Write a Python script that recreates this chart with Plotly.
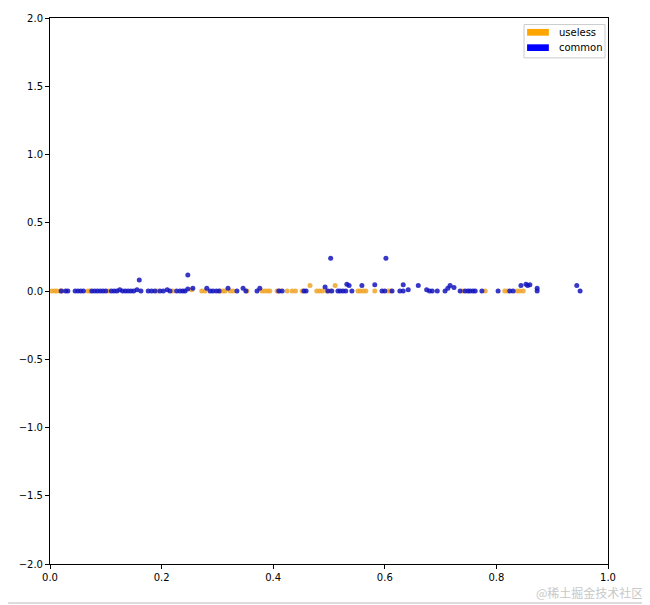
import plotly.graph_objects as go

# ---- data ----
useless_x = [0.003, 0.008, 0.012, 0.018, 0.022, 0.068, 0.072, 0.105, 0.192, 0.22,
             0.254, 0.272, 0.278, 0.305, 0.31, 0.314, 0.323, 0.328, 0.353, 0.38,
             0.385, 0.39, 0.394, 0.407, 0.412, 0.425, 0.434, 0.44, 0.452, 0.466,
             0.478, 0.483, 0.488, 0.496, 0.502, 0.511, 0.552, 0.556, 0.561, 0.566,
             0.582, 0.606, 0.61, 0.74, 0.78, 0.815, 0.82, 0.837, 0.842, 0.848]
useless_y = [0, 0, 0, 0, 0, 0, 0, 0, 0, 0,
             0.01, 0, 0, 0, 0, 0, 0, 0, 0, 0,
             0, 0, 0, 0, 0, 0, 0, 0, 0, 0.04,
             0, 0, 0, 0, 0, 0.04, 0, 0, 0, 0,
             0, 0, 0, 0, 0, 0, 0, 0, 0, 0]

common_x = [0.02, 0.028, 0.032, 0.045, 0.05, 0.055, 0.06, 0.075, 0.08, 0.085,
            0.09, 0.095, 0.1, 0.11, 0.115, 0.12, 0.125, 0.13, 0.135, 0.14,
            0.145, 0.15, 0.156, 0.16, 0.163, 0.176, 0.182, 0.188, 0.197, 0.203,
            0.21, 0.215, 0.227, 0.233, 0.238, 0.242, 0.247, 0.247, 0.256, 0.281,
            0.287, 0.292, 0.298, 0.303, 0.319, 0.335, 0.346, 0.351, 0.371, 0.376,
            0.41, 0.416, 0.455, 0.459, 0.493, 0.498, 0.503, 0.505, 0.516, 0.52,
            0.525, 0.53, 0.532, 0.536, 0.541, 0.559, 0.582, 0.595, 0.6, 0.602,
            0.613, 0.627, 0.633, 0.633, 0.642, 0.66, 0.675, 0.68, 0.685, 0.694,
            0.708, 0.713, 0.717, 0.724, 0.735, 0.744, 0.749, 0.753, 0.758, 0.762,
            0.774, 0.803, 0.824, 0.83, 0.844, 0.853, 0.856, 0.86, 0.873, 0.873,
            0.944, 0.95]
common_y = [0, 0, 0, 0, 0, 0, 0, 0, 0, 0,
            0, 0, 0, 0, 0, 0, 0.01, 0, 0, 0,
            0, 0, 0.01, 0.08, 0, 0, 0, 0, 0, 0,
            0.01, 0, 0, 0, 0, 0, 0.117, 0.015, 0.02, 0.02,
            0, 0, 0, 0, 0.02, 0, 0.02, 0, 0, 0.02,
            0, 0, 0, 0, 0.03, 0, 0.24, 0, 0, 0,
            0, 0, 0.05, 0.04, 0, 0.04, 0.045, 0, 0, 0.24,
            0, 0, 0, 0.045, 0.01, 0.04, 0.01, 0, 0, 0,
            0, 0.02, 0.04, 0.025, 0, 0, 0, 0, 0, 0,
            0, 0, 0, 0, 0.04, 0.05, 0.04, 0.045, 0.02, 0.0,
            0.04, 0.0]

x_ticks = [0.0, 0.2, 0.4, 0.6, 0.8, 1.0]
x_labels = ["0.0", "0.2", "0.4", "0.6", "0.8", "1.0"]
y_ticks = [-2.0, -1.5, -1.0, -0.5, 0.0, 0.5, 1.0, 1.5, 2.0]
y_labels = ["\u22122.0", "\u22121.5", "\u22121.0", "\u22120.5", "0.0", "0.5", "1.0", "1.5", "2.0"]

series_names = ["useless", "common"]
orange = "rgba(240,165,40,0.85)"
blue = "rgba(20,20,190,0.85)"

fig = go.Figure()
fig.add_trace(go.Scatter(x=useless_x, y=useless_y, mode="markers", name=series_names[0],
                         marker=dict(color=orange, size=5, line=dict(width=0)), showlegend=False))
fig.add_trace(go.Scatter(x=common_x, y=common_y, mode="markers", name=series_names[1],
                         marker=dict(color=blue, size=5, line=dict(width=0)), showlegend=False))

axis_common = dict(showgrid=False, zeroline=False, showline=True, linecolor="black", linewidth=1,
                   mirror=True, ticks="outside", ticklen=4, tickcolor="black", tickwidth=1,
                   automargin=False,
                   tickfont=dict(family="DejaVu Sans", size=10, color="black"))

fig.update_xaxes(range=[0, 1], tickvals=x_ticks, ticktext=x_labels, **axis_common)
fig.update_yaxes(range=[-2, 2], tickvals=y_ticks, ticktext=y_labels, **axis_common)

# manual legend (matplotlib-style patches)
shapes = [
    dict(type="rect", xref="paper", yref="paper", x0=0.8495, x1=0.9946, y0=0.927, y1=0.988,
         line=dict(color="#cccccc", width=1), fillcolor="rgba(255,255,255,0.8)"),
    dict(type="rect", xref="paper", yref="paper", x0=0.855, x1=0.894, y0=0.9676, y1=0.98,
         line=dict(width=0), fillcolor="#FFA500"),
    dict(type="rect", xref="paper", yref="paper", x0=0.855, x1=0.894, y0=0.9396, y1=0.9518,
         line=dict(width=0), fillcolor="#0000FF"),
]
annotations = [
    dict(text=series_names[0], xref="paper", yref="paper", x=0.908, y=0.974, xanchor="left",
         yanchor="middle", showarrow=False, font=dict(family="DejaVu Sans", size=10, color="black")),
    dict(text=series_names[1], xref="paper", yref="paper", x=0.908, y=0.946, xanchor="left",
         yanchor="middle", showarrow=False, font=dict(family="DejaVu Sans", size=10, color="black")),
    dict(text="@稀土掘金技术社区", xref="paper", yref="paper", x=1.066, y=-0.053, xanchor="right",
         yanchor="middle", showarrow=False,
         font=dict(family="Noto Sans CJK SC", size=12, color="#c8c8c8")),
]
shapes.append(dict(type="line", xref="paper", yref="paper", x0=-0.075, x1=1.075,
                   y0=-0.0714, y1=-0.0714, line=dict(color="#d0d0d0", width=1.5)))

fig.update_layout(width=642, height=597,
                  margin=dict(l=42, r=42, t=10, b=41, autoexpand=False),
                  paper_bgcolor="white", plot_bgcolor="white",
                  shapes=shapes, annotations=annotations, showlegend=False)

fig.write_html("out.html")
